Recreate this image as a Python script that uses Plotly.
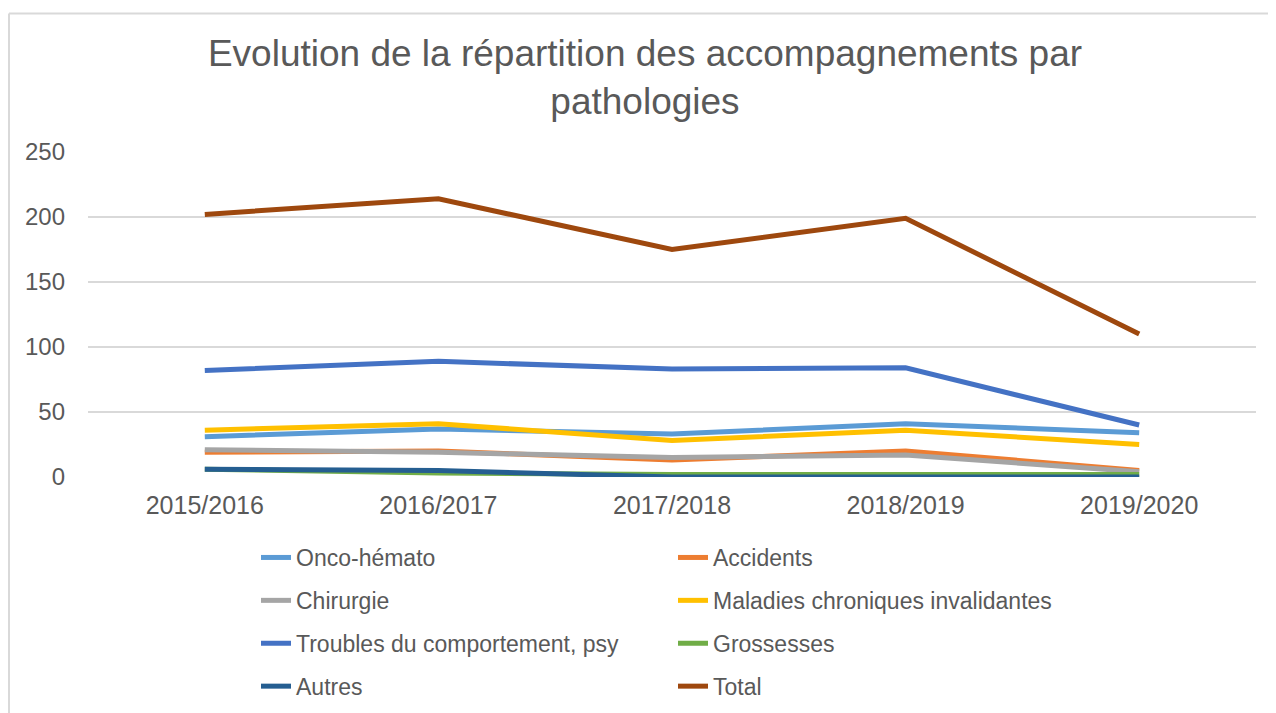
import plotly.graph_objects as go

years = ["2015/2016", "2016/2017", "2017/2018", "2018/2019", "2019/2020"]

onco = [31, 37, 33, 41, 34]
accidents = [19, 20, 13, 20, 5]
chirurgie = [21, 19, 15, 17, 4]
maladies = [36, 41, 28, 36, 25]
troubles = [82, 89, 83, 84, 40]
grossesses = [6, 3, 2, 2, 2]
autres = [6, 5, 0, 0, 0]
total = [202, 214, 175, 199, 110]

series = [
    ("Onco-hémato", onco, "#5B9BD5", "legend"),
    ("Accidents", accidents, "#ED7D31", "legend2"),
    ("Chirurgie", chirurgie, "#A5A5A5", "legend"),
    ("Maladies chroniques invalidantes", maladies, "#FFC000", "legend2"),
    ("Troubles du comportement, psy", troubles, "#4472C4", "legend"),
    ("Grossesses", grossesses, "#70AD47", "legend2"),
    ("Autres", autres, "#255E91", "legend"),
    ("Total", total, "#9E480E", "legend2"),
]

FONT = "Liberation Sans, Arial, sans-serif"
TXT = "#595959"

fig = go.Figure()
for i, (name, vals, col, lg) in enumerate(series):
    fig.add_trace(go.Scatter(
        x=years, y=vals, name=name, mode="lines",
        line=dict(color=col, width=5),
        legend=lg, legendgroup=name,
    ))

# page has an 8px body margin; figure coords = page coords - 8
W, H = 1268, 705
ml, mr, mt, mb = 80, 20, 144, 236
pw, ph = W - ml - mr, H - mt - mb

def px2x(p):
    return (p - ml) / pw

def px2y(p):
    return (H - mb - p) / ph

legend_common = dict(
    orientation="v", xref="container", yref="container",
    xanchor="left", yanchor="top",
    font=dict(family=FONT, size=23, color=TXT),
    tracegroupgap=10, traceorder="grouped",
    bgcolor="rgba(0,0,0,0)",
)

fig.update_layout(
    width=W, height=H,
    margin=dict(l=ml, r=mr, t=mt, b=mb, autoexpand=False),
    paper_bgcolor="white", plot_bgcolor="white",
    font=dict(family=FONT, color=TXT),
    title=dict(
        text="Evolution de la répartition des accompagnements par<br>pathologies",
        x=637 / W, xanchor="center", xref="container",
        y=1 - 58 / H, yanchor="middle", yref="container",
        font=dict(family=FONT, size=37, color=TXT),
    ),
    xaxis=dict(
        type="category", range=[-0.5, 4.5], showgrid=False, showline=False,
        zeroline=False, ticks="", tickfont=dict(family=FONT, size=25, color=TXT),
        ticklabelstandoff=11, automargin=False,
    ),
    yaxis=dict(
        range=[0, 250], dtick=50, showgrid=True, gridcolor="#d9d9d9", gridwidth=1.5,
        zeroline=False, showline=False, ticks="",
        tickfont=dict(family=FONT, size=24, color=TXT),
        ticklabelstandoff=22, automargin=False,
    ),
    legend=dict(x=248 / W, y=1 - 528 / H, **legend_common),
    legend2=dict(x=665 / W, y=1 - 528 / H, **legend_common),
    shapes=[
        dict(type="line", xref="paper", yref="paper",
             x0=px2x(1), x1=px2x(1290), y0=px2y(5.5), y1=px2y(5.5),
             line=dict(color="#d9d9d9", width=2)),
        dict(type="line", xref="paper", yref="paper",
             x0=px2x(1), x1=px2x(1), y0=px2y(5.5), y1=px2y(730),
             line=dict(color="#d9d9d9", width=2)),
    ],
)

fig.write_html("out.html")
